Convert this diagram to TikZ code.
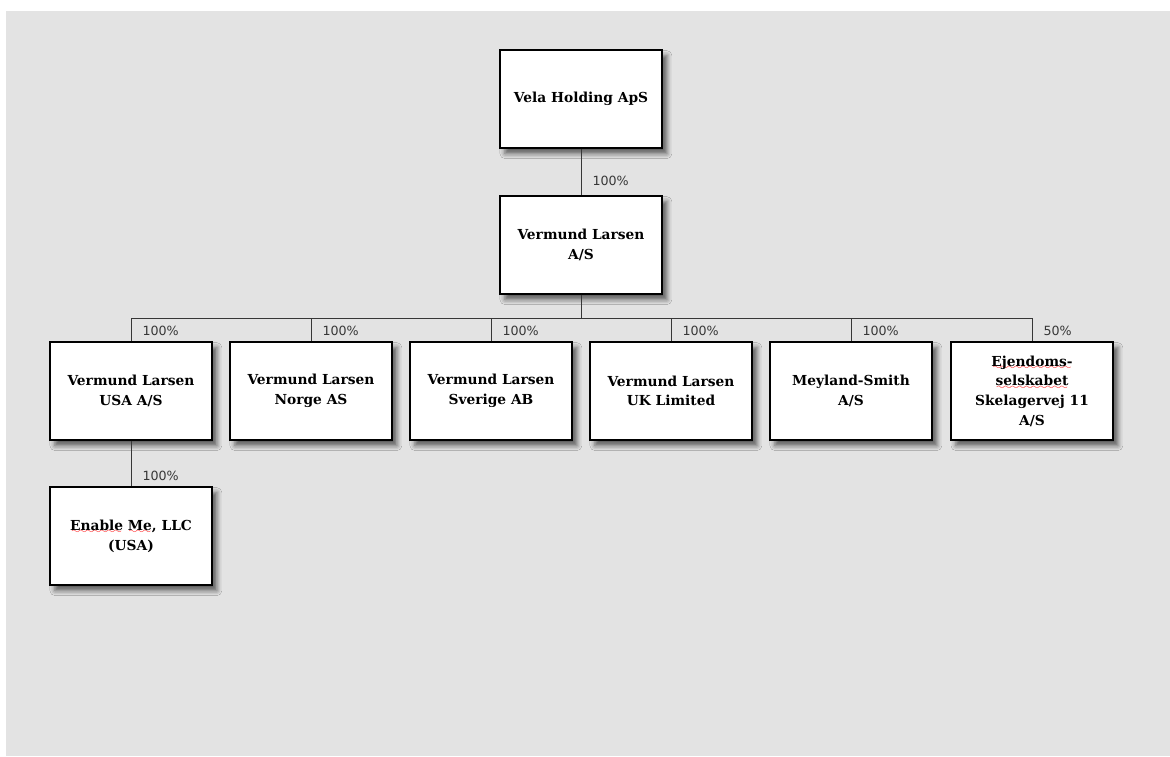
\documentclass[tikz,border=0pt]{standalone}
\usepackage{fontspec}
\setmainfont{DejaVu Serif}
\setsansfont{DejaVu Sans}
\usepackage{xcolor}
\definecolor{bggray}{RGB}{227,227,227}
\definecolor{linegray}{RGB}{55,55,55}
\font\wavefont=lasy6
\newcommand\spellwave[1]{\setbox0\hbox{#1}%
  \rlap{\textcolor{red}{\lower2.5pt\hbox to\wd0{\cleaders\hbox{\wavefont\char58}\hfill}}}\box0\relax}
\usepackage{tikz}
\usetikzlibrary{shadows.blur}

\tikzset{
  company/.style={draw=black, line width=0.9pt, fill=white,
    minimum width=4.05cm, minimum height=2.45cm, align=center,
    font=\bfseries\fontsize{9.8}{14}\selectfont,
    blur shadow={shadow xshift=3.5pt, shadow yshift=-4pt,
      shadow blur radius=3.5pt, shadow opacity=60}},
  owns/.style={draw=linegray, line width=0.7pt},
  pct/.style={anchor=south west, inner sep=1pt, xshift=0.24cm, yshift=2.5pt,
    font=\sffamily\fontsize{9}{10}\selectfont, text=linegray}
}

\begin{document}
\begin{tikzpicture}[x=0.025cm, y=-0.025cm]
  \useasboundingbox (0,0) rectangle (1170,756);
  \fill[bggray] (6,11) rectangle (1170,756);

  % owners
  \node[company] (vela) at (581,99) {Vela Holding ApS};
  \node[company] (vl) at (581,245) {Vermund Larsen\\A/S};
  % subsidiaries
  \node[company] (usa) at (131,391) {Vermund Larsen\\USA A/S};
  \node[company] (norge) at (311,391) {Vermund Larsen\\Norge AS};
  \node[company] (sverige) at (491,391) {Vermund Larsen\\Sverige AB};
  \node[company] (uk) at (671,391) {Vermund Larsen\\UK Limited};
  \node[company] (meyland) at (851,391) {Meyland-Smith\\A/S};
  \node[company] (ejendom) at (1032,391)
    {\spellwave{Ejendoms-}\\\spellwave{selskabet}\\Skelagervej 11\\A/S};
  \node[company] (enable) at (131,536) {\spellwave{Enable} \spellwave{Me}, LLC\\(USA)};

  \draw[owns] (vela) -- (vl) node[pct, pos=1, yshift=3pt] {100\%};
  \coordinate (bus) at (581,318);
  \draw[owns] (vl) -- (bus);
  \foreach \child/\share in {usa/100,norge/100,sverige/100,uk/100,meyland/100,ejendom/50}
    \draw[owns] (bus) -| (\child.north) node[pct, pos=1] {\share\%};
  \draw[owns] (usa) -- (enable) node[pct, pos=1] {100\%};
\end{tikzpicture}
\end{document}
